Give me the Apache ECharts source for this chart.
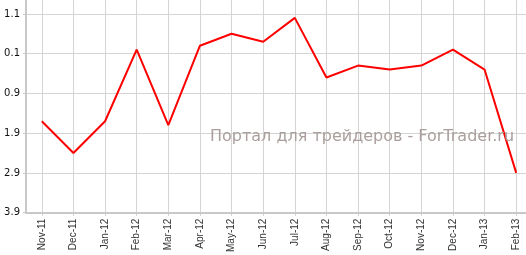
<!DOCTYPE html>
<html>
<head>
<meta charset="utf-8">
<script src="https://cdn.jsdelivr.net/npm/echarts@6/dist/echarts.min.js"></script>
<style>
html,body{margin:0;padding:0;background:#fff;overflow:hidden;}
#c{width:532px;height:255px;}
</style>
</head>
<body>
<div id="c"></div>
<script>
const categories = ['Nov-11','Dec-11','Jan-12','Feb-12','Mar-12','Apr-12','May-12','Jun-12','Jul-12','Aug-12','Sep-12','Oct-12','Nov-12','Dec-12','Jan-13','Feb-13'];
const values = [-1.6, -2.4, -1.6, 0.2, -1.7, 0.3, 0.6, 0.4, 1.0, -0.5, -0.2, -0.3, -0.2, 0.2, -0.3, -2.9];
const yTickLabels = ['3.9','2.9','1.9','0.9','0.1','1.1'];
const watermark = 'Портал для трейдеров - ForTrader.ru';

const chart = echarts.init(document.getElementById('c'), null, {renderer:'canvas'});
chart.setOption({
  animation: false,
  backgroundColor: '#ffffff',
  grid: {left: 26, right: 0, top: 0, bottom: 39, containLabel: false},
  xAxis: {
    type: 'category',
    data: categories,
    boundaryGap: true,
    axisLine: {show: true, onZero: false, lineStyle: {color: '#c8c8c8', width: 2}},
    axisTick: {show: true, alignWithLabel: true, length: 3, lineStyle: {color: '#c8c8c8'}},
    axisLabel: {rotate: 90, margin: 6, fontFamily: 'Liberation Sans', fontSize: 10, color: '#333333', interval: 0},
    splitLine: {show: true, alignWithLabel: true, interval: 0, lineStyle: {color: '#d4d4d4', width: 1}}
  },
  yAxis: {
    type: 'value',
    min: -3.9,
    max: 1.45,
    interval: 1,
    axisLine: {show: true, onZero: false, lineStyle: {color: '#c8c8c8', width: 2}},
    axisTick: {show: true, length: 3, lineStyle: {color: '#c8c8c8'}},
    axisLabel: {
      margin: 6, fontFamily: 'DejaVu Sans', fontSize: 10, color: '#111111',
      showMaxLabel: false,
      formatter: function (v) {
        const i = Math.round(v + 3.9);
        return (i >= 0 && i < yTickLabels.length && Math.abs(v + 3.9 - i) < 0.01) ? yTickLabels[i] : '';
      }
    },
    splitLine: {show: true, showMaxLine: false, lineStyle: {color: '#d4d4d4', width: 1}}
  },
  graphic: [{
    type: 'text',
    left: 210,
    top: 129,
    z: 100,
    style: {text: watermark, fill: '#aa9f9c', font: '16px "DejaVu Sans"'}
  }],
  series: [{
    type: 'line',
    data: values,
    showSymbol: false,
    symbol: 'none',
    lineStyle: {color: '#ff0000', width: 2},
    itemStyle: {color: '#ff0000'}
  }]
});
</script>
</body>
</html>
